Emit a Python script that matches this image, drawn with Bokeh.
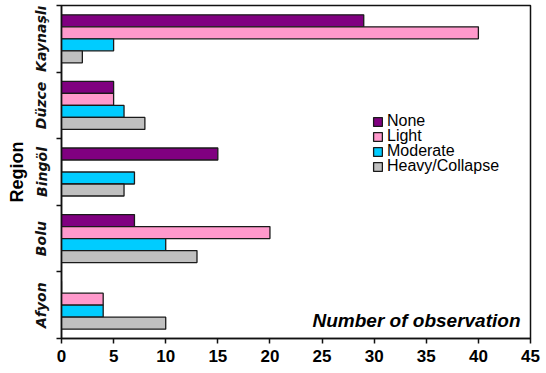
from bokeh.plotting import figure
from bokeh.models import ColumnDataSource, FixedTicker, Legend, LegendItem, Label
from bokeh.transform import dodge
from bokeh.embed import file_html
from bokeh.resources import INLINE

# Regions, bottom to top
regions = ["Afyon", "Bolu", "Bingöl", "Düzce", "Kaynaşlı"]

# Damage classes and their counts per region
classes = ["None", "Light", "Moderate", "Heavy/Collapse"]
none_counts = [0, 7, 15, 5, 29]
light_counts = [4, 20, 0, 5, 40]
moderate_counts = [4, 10, 7, 6, 5]
heavy_counts = [10, 13, 6, 8, 2]

colors = ["#800080", "#ff99cc", "#00ccff", "#c0c0c0"]
offsets = [0.27, 0.09, -0.09, -0.27]
x_ticks = list(range(0, 50, 5))

source = ColumnDataSource(data=dict(
    pos=[i + 0.5 for i in range(len(regions))],
    none=none_counts,
    light=light_counts,
    moderate=moderate_counts,
    heavy=heavy_counts,
))

p = figure(width=546, height=373, output_backend="svg", toolbar_location=None,
           x_range=(0, 45), y_range=(0, len(regions)),
           min_border_left=61, min_border_right=16, min_border_top=5, min_border_bottom=35)
p.background_fill_color = "white"
p.border_fill_color = "white"
p.grid.visible = False
p.outline_line_color = "#111111"
p.outline_line_width = 1.5

items = []
for col, label, color, off in zip(["none", "light", "moderate", "heavy"], classes, colors, offsets):
    r = p.hbar(y=dodge("pos", off, range=p.y_range), left=0, right=col, height=0.18,
               source=source, fill_color=color, line_color="#1a1a1a", line_width=1.3)
    items.append(LegendItem(label=label, renderers=[r]))

# x axis
p.xaxis.ticker = FixedTicker(ticks=x_ticks)
p.xaxis.minor_tick_line_color = None
p.xaxis.major_tick_in = 0
p.xaxis.major_tick_out = 5
p.xaxis.axis_line_color = "#111111"
p.xaxis.axis_line_width = 1.5
p.xaxis.major_tick_line_width = 1.5
p.xaxis.major_tick_line_color = "#111111"
p.xaxis.major_label_text_font = "Liberation Sans"
p.xaxis.major_label_text_font_style = "bold"
p.xaxis.major_label_text_font_size = "17px"
p.xaxis.major_label_text_color = "black"
p.xaxis.major_label_standoff = 6

# y axis: names at group centres, tick marks at group boundaries
p.yaxis.ticker = FixedTicker(ticks=[i + 0.5 for i in range(len(regions))],
                             minor_ticks=list(range(len(regions) + 1)))
p.yaxis.major_label_overrides = {i + 0.5: name for i, name in enumerate(regions)}
p.yaxis.major_tick_line_color = None
p.yaxis.minor_tick_in = 0
p.yaxis.minor_tick_out = 5
p.yaxis.minor_tick_line_width = 1.5
p.yaxis.minor_tick_line_color = "#111111"
p.yaxis.axis_line_color = "#111111"
p.yaxis.axis_line_width = 1.5
p.yaxis.major_label_orientation = "vertical"
p.yaxis.major_label_text_font = "DejaVu Sans"
p.yaxis.major_label_text_font_style = "bold italic"
p.yaxis.major_label_text_font_size = "14px"
p.yaxis.major_label_text_color = "#111111"
p.yaxis.major_label_standoff = 6
p.yaxis.axis_label = "Region"
p.yaxis.axis_label_text_font = "Liberation Sans"
p.yaxis.axis_label_text_font_style = "bold"
p.yaxis.axis_label_text_font_size = "18px"
p.yaxis.axis_label_text_color = "black"
p.yaxis.axis_label_standoff = 4

# one single-entry legend per class, stacked with tight row spacing
for k, item in enumerate(items):
    leg = Legend(items=[item], location=(311, 208 - 15 * k), orientation="vertical",
                 border_line_color=None, background_fill_alpha=0,
                 glyph_width=11, glyph_height=11, label_height=14, spacing=0,
                 padding=0, margin=0, label_standoff=4,
                 label_text_font="Liberation Sans", label_text_font_size="16px",
                 label_text_line_height=0.9,
                 label_text_color="black")
    p.add_layout(leg, "center")

p.add_layout(Label(x=459, y=8, x_units="screen", y_units="screen",
                   text="Number of observation", text_align="right",
                   text_font="Liberation Sans", text_font_style="bold italic",
                   text_font_size="19px", text_color="black"))

open("out.html", "w").write(file_html(p, INLINE))
